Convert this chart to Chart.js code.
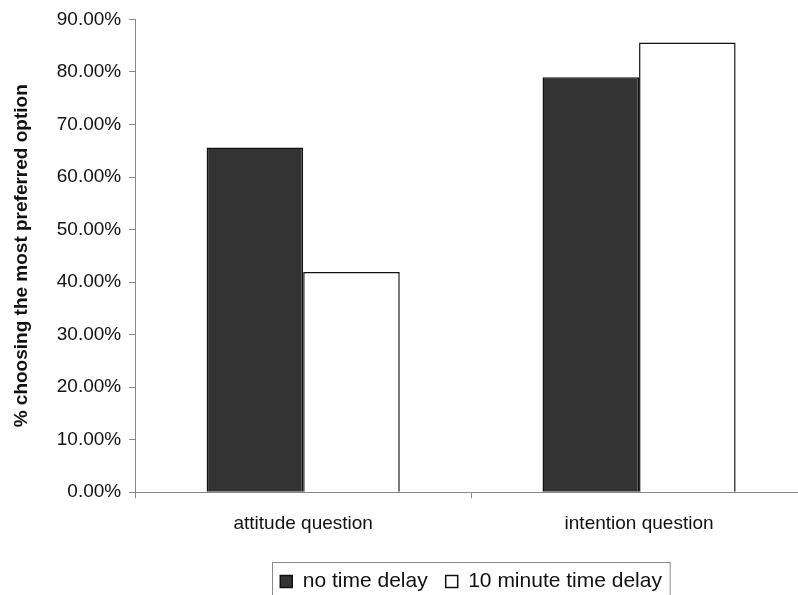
<!DOCTYPE html>
<html>
<head>
<meta charset="utf-8">
<script src="https://cdn.jsdelivr.net/npm/chart.js@4/dist/chart.umd.min.js"></script>
<style>
  html, body { margin: 0; padding: 0; background: #fff; overflow: hidden; }
  #wrap { width: 810px; height: 640px; }
</style>
</head>
<body>
<div id="wrap"><canvas id="myChart" width="810" height="640"></canvas></div>
<script>
// data (percent)
const categories = ['attitude question', 'intention question'];
const noDelay = [65.6, 79.0];
const tenMinDelay = [41.9, 85.6];
const seriesNames = ['no time delay', '10 minute time delay'];
const yTicks = [0, 10, 20, 30, 40, 50, 60, 70, 80, 90];

const font = 'Liberation Sans, Arial, sans-serif';

// box drawn round the legend, like the original
const legendFrame = {
    id: 'legendFrame',
    afterDraw(chart) {
        const boxes = chart.legend.legendHitBoxes;
        if (!boxes || !boxes.length) return;
        let left = Math.min(...boxes.map(b => b.left));
        let right = Math.max(...boxes.map(b => b.left + b.width));
        let top = Math.min(...boxes.map(b => b.top));
        const ctx = chart.ctx;
        ctx.save();
        ctx.strokeStyle = '#8a8a8a';
        ctx.lineWidth = 1;
        ctx.strokeRect(Math.round(left - 8) + 0.5, Math.round(top - 9) + 0.5, right - left + 16, 80);
        ctx.restore();
    }
};

let config = {
    type: 'bar',
    data: {
        labels: categories,
        datasets: [{
            label: seriesNames[0],
            data: noDelay,
            backgroundColor: '#333333',
            borderColor: '#111111',
            borderWidth: 1.5
        }, {
            label: seriesNames[1],
            data: tenMinDelay,
            backgroundColor: '#ffffff',
            borderColor: '#111111',
            borderWidth: 1.5
        }]
    },
    options: {
        responsive: false,
        animation: false,
        layout: { padding: { left: 0, right: 3, top: 16, bottom: 38 } },
        datasets: {
            bar: { categoryPercentage: 0.575, barPercentage: 1.0 }
        },
        plugins: {
            tooltip: { enabled: false },
            legend: {
                position: 'bottom',
                fullSize: false,
                labels: {
                    boxWidth: 12,
                    boxHeight: 12,
                    padding: 18,
                    color: '#111',
                    font: { family: font, size: 21 }
                }
            }
        },
        scales: {
            x: {
                afterFit: axis => { axis.height += 4; },
                grid: {
                    display: true,
                    drawOnChartArea: false,
                    drawTicks: true,
                    tickLength: 6,
                    color: '#888'
                },
                border: { color: '#888', width: 1 },
                ticks: {
                    color: '#111',
                    padding: 14,
                    font: { family: font, size: 19 }
                }
            },
            y: {
                min: 0,
                max: 90,
                afterBuildTicks: axis => { axis.ticks = yTicks.map(v => ({ value: v })); },
                grid: {
                    display: true,
                    drawOnChartArea: false,
                    drawTicks: true,
                    tickLength: 6,
                    color: '#888'
                },
                border: { color: '#888', width: 1 },
                ticks: {
                    color: '#111',
                    padding: 8,
                    font: { family: font, size: 19 },
                    callback: v => v.toFixed(2) + '%'
                },
                title: {
                    display: true,
                    text: '% choosing the most preferred option',
                    color: '#111',
                    padding: { top: 10, bottom: 16 },
                    font: { family: font, size: 19, weight: 'bold' }
                }
            }
        }
    },
    plugins: [legendFrame]
};

const myChart = new Chart(document.getElementById('myChart'), config);
</script>
</body>
</html>
